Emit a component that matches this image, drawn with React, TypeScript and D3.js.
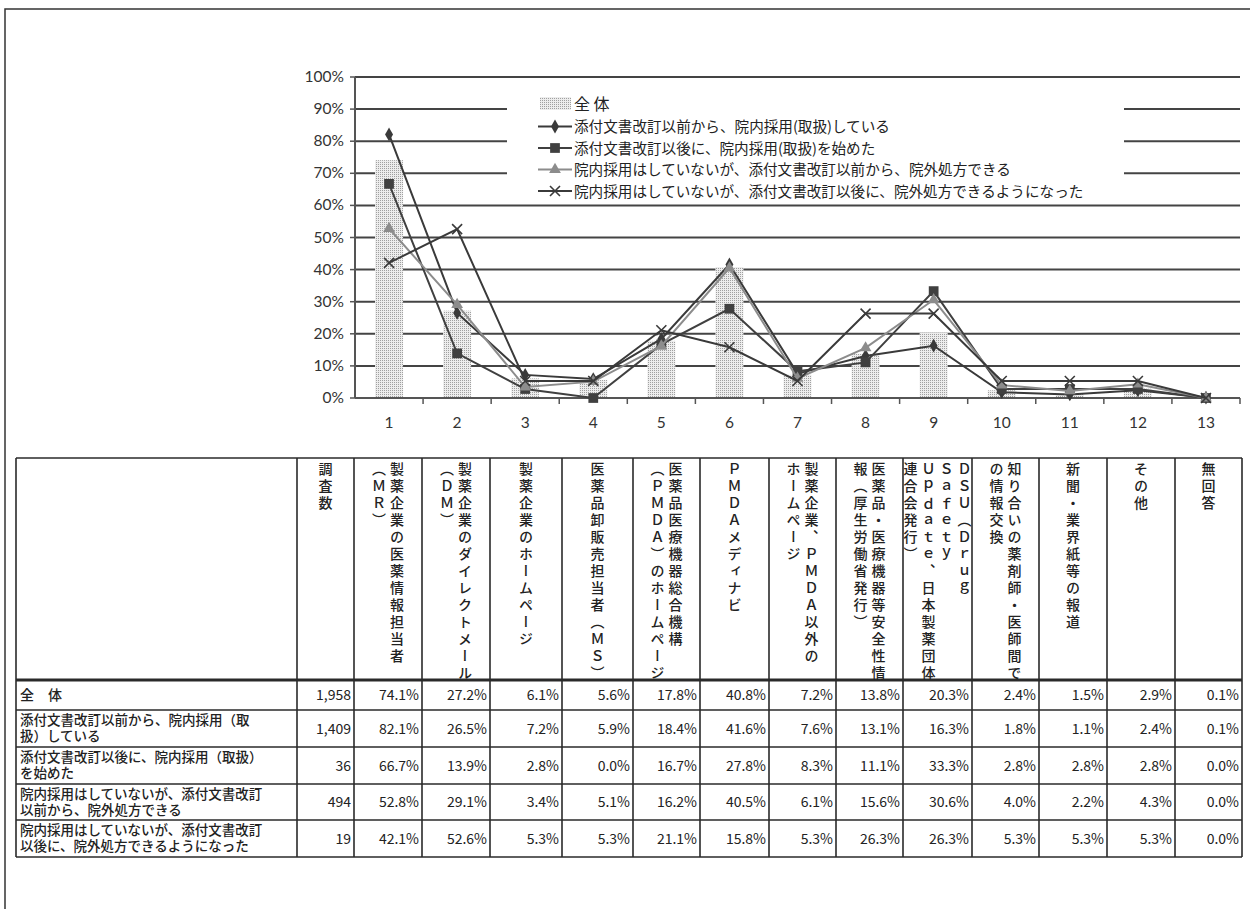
import React from "react";
import * as d3 from "d3";

const categories = ["1", "2", "3", "4", "5", "6", "7", "8", "9", "10", "11", "12", "13"];
const overall = [74.1, 27.2, 6.1, 5.6, 17.8, 40.8, 7.2, 13.8, 20.3, 2.4, 1.5, 2.9, 0.1];
const seriesBefore = [82.1, 26.5, 7.2, 5.9, 18.4, 41.6, 7.6, 13.1, 16.3, 1.8, 1.1, 2.4, 0.1];
const seriesAfter = [66.7, 13.9, 2.8, 0.0, 16.7, 27.8, 8.3, 11.1, 33.3, 2.8, 2.8, 2.8, 0.0];
const seriesOutBefore = [52.8, 29.1, 3.4, 5.1, 16.2, 40.5, 6.1, 15.6, 30.6, 4.0, 2.2, 4.3, 0.0];
const seriesOutAfter = [42.1, 52.6, 5.3, 5.3, 21.1, 15.8, 5.3, 26.3, 26.3, 5.3, 5.3, 5.3, 0.0];
const yTicks = [0, 10, 20, 30, 40, 50, 60, 70, 80, 90, 100];

const legendLabels = [
  "全 体",
  "添付文書改訂以前から、院内採用(取扱)している",
  "添付文書改訂以後に、院内採用(取扱)を始めた",
  "院内採用はしていないが、添付文書改訂以前から、院外処方できる",
  "院内採用はしていないが、添付文書改訂以後に、院外処方できるようになった",
];

const counts = ["1,958", "1,409", "36", "494", "19"];
const rowLabels = [
  ["全　体"],
  ["添付文書改訂以前から、院内採用（取", "扱）している"],
  ["添付文書改訂以後に、院内採用（取扱）", "を始めた"],
  ["院内採用はしていないが、添付文書改訂", "以前から、院外処方できる"],
  ["院内採用はしていないが、添付文書改訂", "以後に、院外処方できるようになった"],
];
// header text columns, listed right-to-left (vertical writing)
const headerCols = [
  ["調査数"],
  ["製薬企業の医薬情報担当者", "（ＭＲ）"],
  ["製薬企業のダイレクトメール", "（ＤＭ）"],
  ["製薬企業のホームページ"],
  ["医薬品卸販売担当者（ＭＳ）"],
  ["医薬品医療機器総合機構", "（ＰＭＤＡ）のホームページ"],
  ["ＰＭＤＡメディナビ"],
  ["製薬企業、ＰＭＤＡ以外の", "ホームページ"],
  ["医薬品・医療機器等安全性情", "報（厚生労働省発行）"],
  ["ＤＳＵ（Ｄｒｕｇ", "Ｓａｆｅｔｙ", "Ｕｐｄａｔｅ、日本製薬団体", "連合会発行）"],
  ["知り合いの薬剤師・医師間で", "の情報交換"],
  ["新聞・業界紙等の報道"],
  ["その他"],
  ["無回答"],
];
const tableRows = [overall, seriesBefore, seriesAfter, seriesOutBefore, seriesOutAfter];

const colEdges = [16, 297, 354, 422, 490, 562, 633, 700, 769, 836, 903, 972, 1039, 1107, 1175, 1242];
const rowEdges = [458, 680, 710, 747, 784, 820, 857];

const JP = "'Noto Sans CJK JP', 'Noto Sans', sans-serif";
const LAT = "Lato, 'Liberation Sans', sans-serif";

export default function App() {
  const x = d3.scaleBand<string>().domain(categories).range([355, 1240]).paddingInner(0).paddingOuter(0);
  const y = d3.scaleLinear().domain([0, 100]).range([398, 77]);
  const cx = (i: number) => (x(categories[i]) as number) + x.bandwidth() / 2;
  const barW = 28;

  const line = d3
    .line<number>()
    .x((_, i) => cx(i))
    .y((v) => y(v));

  const diamond = d3.symbol().type(d3.symbolDiamond).size(55)();
  const square = d3.symbol().type(d3.symbolSquare).size(95)();
  const triangle = d3.symbol().type(d3.symbolTriangle).size(60)();
  const xMark = "M-5,-5L5,5M-5,5L5,-5";

  const series = [
    { data: seriesBefore, color: "#3a3a3a", marker: diamond, kind: "fill" },
    { data: seriesAfter, color: "#404040", marker: square, kind: "fill" },
    { data: seriesOutBefore, color: "#8c8c8c", marker: triangle, kind: "fill" },
    { data: seriesOutAfter, color: "#3a3a3a", marker: xMark, kind: "stroke" },
  ];

  const legendY = [104, 126.5, 148, 169.5, 191];

  return (
    <svg width={1250} height={909} style={{ position: "absolute", left: 0, top: 0, background: "#fff" }}>
      <defs>
        <pattern id="dots" width={2} height={2} patternUnits="userSpaceOnUse">
          <rect width={2} height={2} fill="#ededed" />
          <rect width={1} height={1} fill="#a0a0a0" />
        </pattern>
      </defs>
      {/* page frame */}
      <path d="M5,909L5,9L1250,9" fill="none" stroke="#333" strokeWidth={1.5} />

      {/* gridlines */}
      {yTicks.map((t) => (
        <line key={t} x1={355} x2={1240} y1={y(t)} y2={y(t)} stroke="#444" strokeWidth={t === 0 ? 1.5 : 2} />
      ))}
      {/* legend background */}
      <rect x={507} y={90} width={617} height={110} fill="#fff" />

      {/* bars */}
      {overall.map((v, i) => (
        <rect key={i} x={cx(i) - barW / 2} y={y(v)} width={barW} height={y(0) - y(v)} fill="url(#dots)" />
      ))}

      {/* axes */}
      <line x1={355} x2={355} y1={77} y2={398} stroke="#555" strokeWidth={2} />
      {yTicks.map((t) => (
        <g key={t}>
          <line x1={350} x2={355} y1={y(t)} y2={y(t)} stroke="#555" strokeWidth={1.5} />
          <text x={344} y={y(t) + 5} textAnchor="end" fontFamily={LAT} fontSize={15.5} fill="#333">
            {t}%
          </text>
        </g>
      ))}
      <line x1={355} x2={1240} y1={398} y2={398} stroke="#555" strokeWidth={2} />
      {categories.map((c, i) => (
        <g key={c}>
          <line
            x1={(x(c) as number) + x.bandwidth()}
            x2={(x(c) as number) + x.bandwidth()}
            y1={398}
            y2={404}
            stroke="#555"
            strokeWidth={1.5}
          />
          <text x={cx(i)} y={428} textAnchor="middle" fontFamily={LAT} fontSize={15.5} fill="#333">
            {c}
          </text>
        </g>
      ))}

      {/* lines */}
      {series.map((s, si) => (
        <g key={si}>
          <path d={line(s.data) as string} fill="none" stroke={s.color} strokeWidth={2} />
          {s.data.map((v, i) =>
            s.kind === "fill" ? (
              <path key={i} d={s.marker as string} transform={`translate(${cx(i)},${y(v)})`} fill={s.color} />
            ) : (
              <path key={i} d={s.marker as string} transform={`translate(${cx(i)},${y(v)})`} fill="none" stroke={s.color} strokeWidth={1.6} />
            )
          )}
        </g>
      ))}

      {/* legend */}
      <rect x={540} y={97} width={31} height={13} fill="url(#dots)" />
      {series.map((s, si) => (
        <g key={si}>
          <line x1={538} x2={572} y1={legendY[si + 1]} y2={legendY[si + 1]} stroke={s.color} strokeWidth={2} />
          {s.kind === "fill" ? (
            <path d={s.marker as string} transform={`translate(555,${legendY[si + 1]})`} fill={s.color} />
          ) : (
            <path d={s.marker as string} transform={`translate(555,${legendY[si + 1]})`} fill="none" stroke={s.color} strokeWidth={1.6} />
          )}
        </g>
      ))}
      {legendLabels.map((l, i) => (
        <text key={i} x={574} y={legendY[i] + 5.5} fontFamily={JP} fontSize={i === 0 ? 16 : 14.6} fill="#222">
          {l}
        </text>
      ))}

      {/* table grid */}
      {rowEdges.map((ry, i) => (
        <line key={"r" + i} x1={16} x2={1242} y1={ry} y2={ry} stroke="#2a2a2a" strokeWidth={i === 1 ? 3 : 1.6} />
      ))}
      {colEdges.map((cxv, i) => (
        <line key={"c" + i} x1={cxv} x2={cxv} y1={458} y2={857} stroke="#2a2a2a" strokeWidth={1.6} />
      ))}

      {/* header texts */}
      {headerCols.map((cols, ci) => {
        const left = colEdges[ci + 1];
        const right = colEdges[ci + 2];
        const center = (left + right) / 2;
        const pitch = 18;
        const n = cols.length;
        return cols.map((t, k) => {
          const colX = center + ((n - 1) / 2) * pitch - k * pitch;
          return (
            <text
              key={ci + "-" + k}
              x={colX}
              y={462}
              fontFamily={JP}
              fontSize={14}
              fontWeight={500}
              fill="#222"
              letterSpacing={3}
              style={{ writingMode: "vertical-rl" as any }}
            >
              {t}
            </text>
          );
        });
      })}

      {/* row labels and values */}
      {rowLabels.map((lines, ri) => {
        const top = rowEdges[ri + 1];
        const bot = rowEdges[ri + 2];
        const mid = (top + bot) / 2;
        return (
          <g key={ri}>
            {lines.length === 1 ? (
              <text x={20} y={mid + 5} fontFamily={JP} fontSize={14} fontWeight={500} fill="#222">
                {lines[0]}
              </text>
            ) : (
              <text x={20} y={top + 15} fontFamily={JP} fontSize={13.5} fontWeight={500} fill="#222">
                {lines.map((l, k) => (
                  <tspan key={k} x={20} dy={k === 0 ? 0 : 15.5}>
                    {l}
                  </tspan>
                ))}
              </text>
            )}
            <text x={colEdges[2] - 3} y={mid + 5} textAnchor="end" fontFamily={JP} fontSize={14} fill="#222">
              {counts[ri]}
            </text>
            {tableRows[ri].map((v, k) => (
              <text key={k} x={colEdges[k + 3] - 3} y={mid + 5} textAnchor="end" fontFamily={JP} fontSize={14} fill="#222">
                {v.toFixed(1)}%
              </text>
            ))}
          </g>
        );
      })}
    </svg>
  );
}
